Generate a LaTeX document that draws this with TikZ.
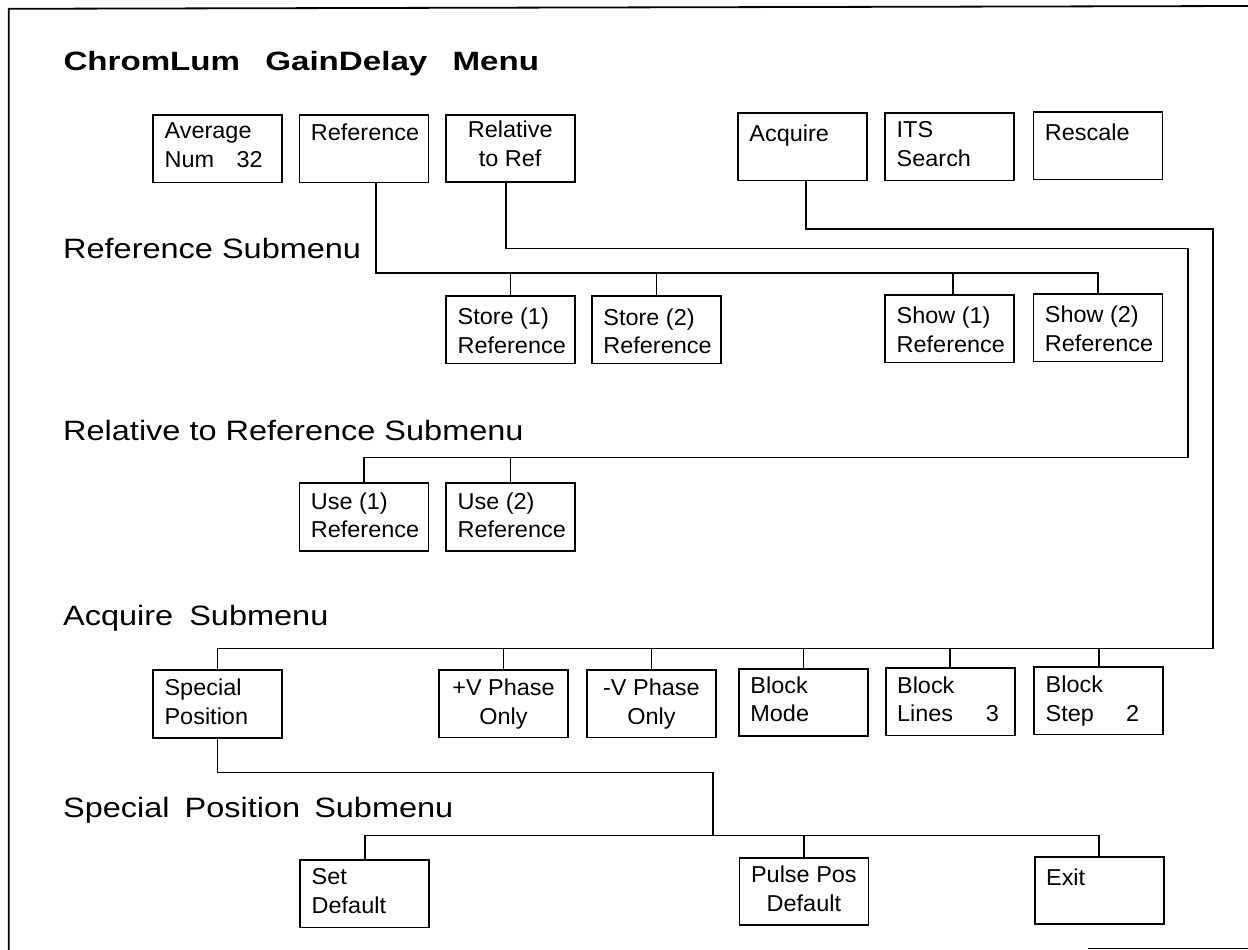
\documentclass[tikz,border=0pt]{standalone}
\usepackage{fontspec}
\setmainfont{Liberation Sans}
\newfontfamily\titlefont[FakeStretch=1.25]{Liberation Sans}
\newfontfamily\headfont[FakeStretch=1.16]{Liberation Sans}
\newfontfamily\boxfont[FakeStretch=1.02]{Liberation Sans}
\usetikzlibrary{calc}

% menu key text: fixed-size box, lines hung from the top edge
\newcommand{\keyl}[2][25.5pt]{\parbox[c][67.5pt][t]{106pt}{\raggedright\rule{0pt}{#1}#2}}
\newcommand{\keyc}[2][25.5pt]{\parbox[c][67.5pt][t]{106pt}{\centering\rule{0pt}{#1}#2}}
\newcommand{\keyval}[3]{\makebox[\linewidth]{#1\hfill #2\hspace{#3}}}

\begin{document}
\begin{tikzpicture}[x=1pt,y=-1pt,
  menukey/.style={draw, line width=1.8pt, inner xsep=11.5pt, inner ysep=0pt,
    anchor=north west, font={\boxfont\fontsize{23}{28.5}\selectfont}},
  heading/.style={anchor=base west, inner sep=0pt,
    font={\headfont\fontsize{28}{32}\selectfont}},
  wire/.style={line width=1.7pt},
  frame/.style={line width=1.8pt}]

\fill[white] (0,0) rectangle (1248,950);
\useasboundingbox (0,0) rectangle (1248,950);

% outer frame
\draw[frame] (8.7,950) -- (8.7,8.8) -- (1248,6);
\draw[frame] (1088,948.5) -- (1248,948.5);

% headings
\node[anchor=base west, inner sep=0pt,
  font={\titlefont\bfseries\fontsize{26.5}{30}\selectfont}] (title) at (63.3,70.7)
  {ChromLum\hspace{16pt} GainDelay\hspace{16pt} Menu};
\node[heading] (hRef) at (63,258.3) {Reference Submenu};
\node[heading] (hRel) at (63,440) {Relative to Reference Submenu};
\node[heading] (hAcq) at (63,625.5) {Acquire\hspace{7pt} Submenu};
\node[heading] (hSp)  at (63,817.3) {Special\hspace{6pt} Position\hspace{5pt} Submenu};

% main menu keys
\node[menukey] (avg)  at (152.2,114)   {\keyl[23.7pt]{Average\\\keyval{Num}{32}{7.8pt}}};
\node[menukey] (ref)  at (298.5,114)   {\keyl{Reference}};
\node[menukey] (rel)  at (444.8,113.7) {\keyc[23pt]{Relative\\to Ref}};
\node[menukey] (acq)  at (737,112)     {\keyl[28.7pt]{Acquire}};
\node[menukey] (its)  at (884.3,112)   {\keyl[24.7pt]{ITS\\Search}};
\node[menukey] (resc) at (1032.5,111)  {\keyl[28.3pt]{Rescale}};

% reference submenu
\node[menukey] (store1) at (445.2,295)  {\keyl[29pt]{Store (1)\\Reference}};
\node[menukey] (store2) at (591,295)    {\keyl[29.5pt]{Store (2)\\Reference}};
\node[menukey] (show1)  at (884.3,294)  {\keyl[28.7pt]{Show (1)\\Reference}};
\node[menukey] (show2)  at (1032.5,293) {\keyl[28.7pt]{Show (2)\\Reference}};

% relative to reference submenu
\node[menukey] (use1) at (298.5,482.3) {\keyl[26pt]{Use (1)\\Reference}};
\node[menukey] (use2) at (445.2,482.3) {\keyl[26pt]{Use (2)\\Reference}};

% acquire submenu
\node[menukey] (special) at (152.2,669.3) {\keyl[25.7pt]{Special\\Position}};
\node[menukey] (pv)      at (438.1,669)   {\keyc[26pt]{+V Phase\\Only}};
\node[menukey] (mv)      at (586,669)     {\keyc[26pt]{-V Phase\\Only}};
\node[menukey] (mode)    at (738,667.7)   {\keyl[24.7pt]{Block\\Mode}};
\node[menukey] (lines)   at (884.7,667)   {\keyl[25.3pt]{Block\\\keyval{Lines}{3}{4.1pt}}};
\node[menukey] (stp)     at (1033.3,666)  {\keyl[25.7pt]{Block\\\keyval{Step}{2}{12.5pt}}};

% special position submenu
\node[menukey] (set)   at (299.3,859)   {\keyl[25pt]{Set\\Default}};
\node[menukey] (pulse) at (738.5,856.7) {\keyc[25pt]{Pulse Pos\\Default}};
\node[menukey] (exit)  at (1033.7,855.7) {\keyl[29.3pt]{Exit}};

% bus rails and turning points
\coordinate (busR) at (0,273);
\coordinate (relx) at (1188,248.5);
\coordinate (busU) at (0,457.5);
\coordinate (acqx) at (1213,229);
\coordinate (busA) at (0,648.5);
\coordinate (spx)  at (713.3,772.5);
\coordinate (busS) at (0,835.5);

% Reference -> its submenu
\draw[wire] ($(ref.south)+(12,0)$) |- (show2.north |- busR) -- (show2.north);
\draw[wire] (store1.north) -- (store1.north |- busR);
\draw[wire] (store2.north) -- (store2.north |- busR);
\draw[wire] ($(show1.north)+(3,0)$) -- ($(show1.north |- busR)+(3,0)$);

% Relative to Ref -> its submenu
\draw[wire] ($(rel.south)+(-4,0)$) |- (relx) |- (use1.north |- busU) -- (use1.north);
\draw[wire] (use2.north) -- (use2.north |- busU);

% Acquire -> its submenu
\draw[wire] ($(acq.south)+(3.5,0)$) |- (acqx) |- (special.north |- busA) -- (special.north);
\draw[wire] (pv.north) -- (pv.north |- busA);
\draw[wire] (mv.north) -- (mv.north |- busA);
\draw[wire] (mode.north) -- (mode.north |- busA);
\draw[wire] (lines.north) -- (lines.north |- busA);
\draw[wire] (stp.north) -- (stp.north |- busA);

% Special Position -> its submenu
\draw[wire] (special.south) |- (spx) |- (set.north |- busS) -- (set.north);
\draw[wire] (spx |- busS) -| (exit.north);
\draw[wire] (pulse.north) -- (pulse.north |- busS);

\end{tikzpicture}
\end{document}
